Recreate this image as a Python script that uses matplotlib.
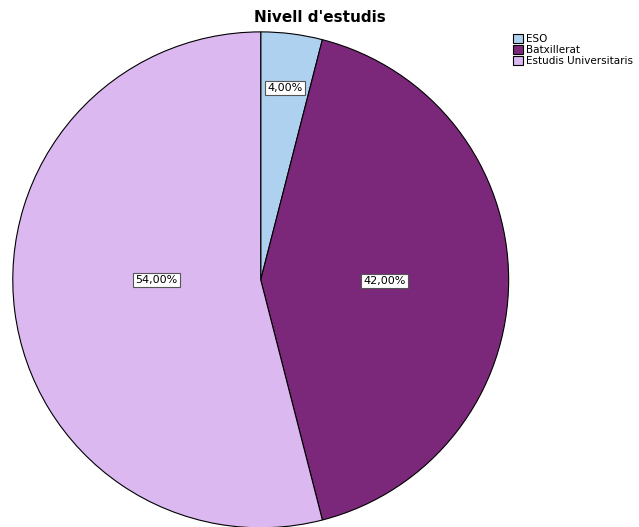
import matplotlib
matplotlib.use("Agg")
import matplotlib.pyplot as plt
import numpy as np

categories = ["ESO", "Batxillerat", "Estudis Universitaris"]
values = [4.0, 42.0, 54.0]
labels = ["4,00%", "42,00%", "54,00%"]
colors = ["#aed1ef", "#7b287b", "#dcb8f1"]
label_radii = [0.78, 0.5, 0.42]
label_angle_shift = [0.0, -0.5, -7.2]

plt.rcParams['font.family'] = ['DejaVu Sans']
fig = plt.figure(figsize=(6.39, 5.27), dpi=100)
ax = fig.add_axes([0.020, -0.0015, 0.776, 0.941])
wedges, _ = ax.pie(values, colors=colors, startangle=90, counterclock=False,
                   wedgeprops=dict(edgecolor="black", linewidth=0.8))
ax.set_xlim(-1, 1)
ax.set_ylim(-1, 1)
ax.set_aspect('auto')
for w, lab, r, s in zip(wedges, labels, label_radii, label_angle_shift):
    ang = np.deg2rad((w.theta1 + w.theta2) / 2 + s)
    ax.text(r * np.cos(ang), r * np.sin(ang), lab, ha='center', va='center', fontsize=8,
            bbox=dict(boxstyle='square,pad=0.2', fc='white', ec='#555555', lw=0.8))

fig.text(0.5, 0.967, "Nivell d'estudis", ha='center', va='center', fontsize=11, fontweight='bold')
leg = fig.legend(wedges, categories, loc='upper left', bbox_to_anchor=(0.795, 0.945),
                 frameon=False, fontsize=7.5, handlelength=0.9, handleheight=0.9,
                 handletextpad=0.3, labelspacing=0.1, borderpad=0)
fig.savefig("out.png", dpi=100)
